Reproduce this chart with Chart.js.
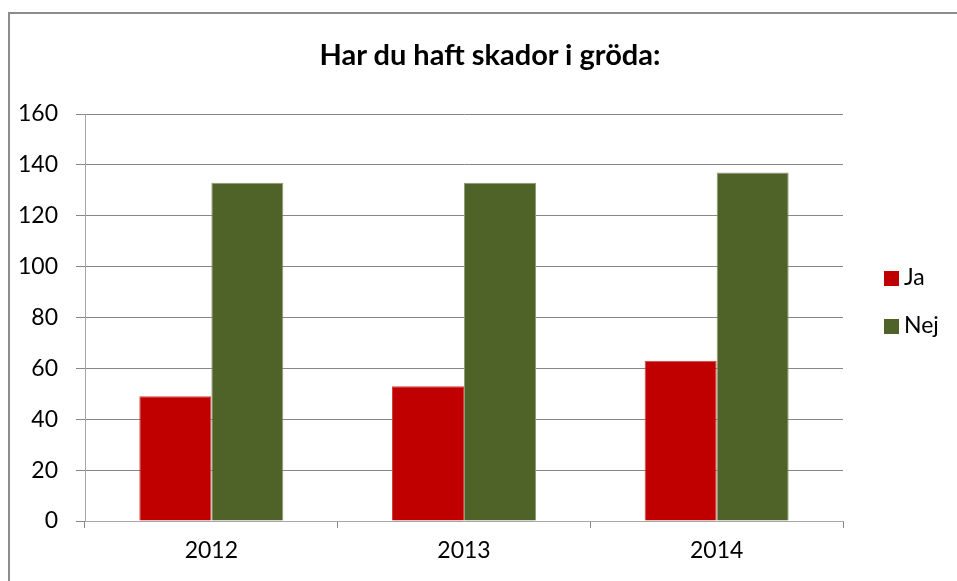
<!DOCTYPE html>
<html>
<head>
<meta charset="utf-8">
<script src="https://cdn.jsdelivr.net/npm/chart.js@4/dist/chart.umd.min.js"></script>
<style>
    html, body { margin: 0; padding: 0; background: #fff; }
    #wrap { position: relative; width: 957px; height: 581px; overflow: hidden; font-family: Lato, sans-serif; }
    #frame { position: absolute; left: 8px; top: 12px; width: 1000px; height: 700px;
             border-left: 2px solid #8c8c8c; border-top: 2px solid #8c8c8c; }
    #title { position: absolute; left: 240px; width: 500px; top: 36px; text-align: center;
             font-weight: bold; font-size: 29px; line-height: 36px; color: #000; }
    .leg { position: absolute; left: 884px; font-size: 23px; line-height: 26px; color: #000; }
    .leg span { display: inline-block; width: 15px; height: 15px; margin-right: 5px; vertical-align: -1px; }
    canvas { position: absolute; left: 0; top: 0; }
</style>
</head>
<body>
<div id="wrap">
    <div id="frame"></div>
    <canvas id="skadorCanvas" width="957" height="581"></canvas>
    <div id="title">Har du haft skador i gröda:</div>
    <div id="legend"></div>
</div>
<script>
    // values
    var years = ['2012', '2013', '2014'];
    var jaValues = [49, 53, 63];
    var nejValues = [133, 133, 137];
    var seriesNames = ['Ja', 'Nej'];
    var seriesColors = ['#c00000', '#4f6228'];

    var gridColor = '#878787';

    var ctx = document.getElementById('skadorCanvas');

    var chart = new Chart(ctx, {
        type: 'bar',
        data: {
            labels: years,
            datasets: [
                {
                    label: seriesNames[0],
                    data: jaValues,
                    backgroundColor: seriesColors[0], // red
                    borderColor: '#d24040',
                    borderWidth: 1,
                    categoryPercentage: 0.57,
                    barPercentage: 1
                },
                {
                    label: seriesNames[1],
                    data: nejValues,
                    backgroundColor: seriesColors[1], // green
                    borderColor: '#8f9c7c',
                    borderWidth: 1,
                    categoryPercentage: 0.57,
                    barPercentage: 1
                }
            ]
        },
        options: {
            responsive: false,
            animation: false,
            layout: { padding: { top: 114, right: 114, bottom: 0, left: 0 } },
            plugins: {
                legend: { display: false },
                title: { display: false },
                tooltip: { enabled: false }
            },
            scales: {
                x: {
                    grid: { display: true, drawOnChartArea: false, offset: true, tickLength: 7, color: gridColor },
                    border: { color: '#a6a6a6' },
                    ticks: { color: '#000', font: { family: 'Lato', size: 23 }, padding: 9 },
                    afterFit: function (scale) { scale.height = 60; }
                },
                y: {
                    min: 0,
                    max: 160,
                    ticks: { stepSize: 20, color: '#000', font: { family: 'Lato', size: 23 }, padding: 18 },
                    grid: { color: gridColor, tickLength: 9 },
                    border: { color: '#a6a6a6' },
                    afterFit: function (scale) { scale.width = 85; }
                }
            }
        }
    });

    // legend as html, next to the plot
    var legendDiv = document.getElementById('legend');
    var legendTops = [263, 311];
    for (var i = 0; i < seriesNames.length; i++) {
        var item = document.createElement('div');
        item.className = 'leg';
        item.style.top = legendTops[i] + 'px';
        item.innerHTML = '<span style="background:' + seriesColors[i] + '"></span>' + seriesNames[i];
        legendDiv.appendChild(item);
    }
</script>
</body>
</html>
